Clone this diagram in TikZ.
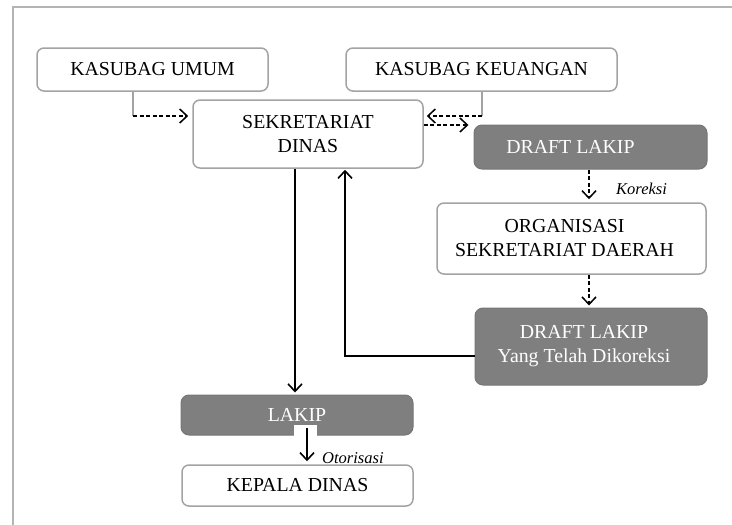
\documentclass[tikz,border=0pt]{standalone}
\usepackage{fontspec}
\setmainfont{Liberation Serif}
\usetikzlibrary{arrows.meta,calc}
\definecolor{frameline}{HTML}{B4B4B4}
\definecolor{boxline}{HTML}{A3A3A3}
\definecolor{darkfill}{HTML}{7F7F7F}
\definecolor{darkline}{HTML}{767676}
\begin{document}
\begin{tikzpicture}[x=1pt,y=-1pt,
  every node/.style={font=\fontsize{19.8}{24}\selectfont},
  whitebox/.style={draw=boxline,line width=1.5pt,fill=white,rounded corners=7pt,inner sep=0pt},
  graybox/.style={draw=darkline,line width=1pt,fill=darkfill,rounded corners=8pt,inner sep=0pt},
  boxtext/.style={align=center,inner sep=0pt},
  graytext/.style={align=center,inner sep=0pt,text=white},
  note/.style={font=\fontsize{16.5}{19}\selectfont\itshape,inner sep=0pt},
  tap/.style={draw=boxline,line width=1.2pt},
  dasharrow/.style={draw=black,line width=1.5pt,dash pattern=on 4pt off 2.5pt,
    -{Straight Barb[length=7.5pt,width=14pt,line width=1.5pt]}},
  solidarrow/.style={draw=black,line width=1.6pt,
    -{Straight Barb[length=7.5pt,width=14pt,line width=1.6pt]}}]
\useasboundingbox (0,0) rectangle (732,525);
% page frame
\draw[frameline,line width=1.6pt] (13,525) -- (13,7) -- (732,7);

% boxes
\node[whitebox,minimum width=231,minimum height=43] (umum) at (152.5,69.5) {KASUBAG UMUM};
\node[whitebox,minimum width=271,minimum height=43] (keu) at (481.5,69.5) {KASUBAG KEUANGAN};
\node[whitebox,minimum width=230,minimum height=68,align=center] (sekr) at (308,134) {SEKRETARIAT\\DINAS};
\node[graybox,minimum width=233,minimum height=44] (draft1) at (590.5,147) {};
\node[graytext] (draft1text) at ([xshift=-20]draft1.center) {DRAFT LAKIP};
\node[whitebox,minimum width=269,minimum height=71] (org) at (571.5,238.5) {};
\node[boxtext] (orgtext) at ([xshift=-7]org.center) {ORGANISASI\\SEKRETARIAT DAERAH};
\node[graybox,minimum width=232,minimum height=77] (draft2) at (591,346.5) {};
\node[graytext] (draft2text) at ([xshift=-7]draft2.center) {DRAFT LAKIP\\Yang Telah Dikoreksi};
\node[graybox,minimum width=232,minimum height=40,text=white] (lakip) at (297,415) {LAKIP};
\node[whitebox,minimum width=231,minimum height=41] (kepala) at (297.5,485.5) {KEPALA DINAS};

% notch under LAKIP
\fill[white] (294,425) rectangle (317,436);
\coordinate (notch) at (307,428);

% inputs into the secretariat
\coordinate (umumtap) at (133,116);
\draw[tap] (umum.south -| umumtap) -- (umumtap);
\draw[dasharrow,shorten >=4pt] (umumtap) -- (sekr.west |- umumtap);
\coordinate (keutap) at (482,116);
\draw[tap] (keu.south -| keutap) -- (keutap);
\draw[dasharrow,shorten >=3pt] (keutap) -- (sekr.east |- keutap);

% draft flow
\draw[dasharrow,shorten >=5pt] ([yshift=9]sekr.east) -- ([yshift=9]sekr.east -| draft1.west);
\draw[dasharrow,shorten >=3pt] ([xshift=-1.5]draft1.south) -- ([xshift=-1.5]draft1.south |- org.north);
\node[note,anchor=base west] (koreksi) at (616,194) {Koreksi};
\draw[dasharrow,shorten >=2pt] ([xshift=17.5]org.south) -- ([xshift=17.5]org.south |- draft2.north);
\draw[solidarrow,shorten >=1pt] ([yshift=-9.5]draft2.west) -| ([xshift=37]sekr.south);

% final document
\draw[solidarrow,shorten >=2pt] ([xshift=-13]sekr.south) -- ([xshift=-13]sekr.south |- lakip.north);
\draw[solidarrow,shorten >=3pt] (notch) -- (notch |- kepala.north);
\node[note,anchor=base west] (otorisasi) at (322,463) {Otorisasi};
\end{tikzpicture}
\end{document}
